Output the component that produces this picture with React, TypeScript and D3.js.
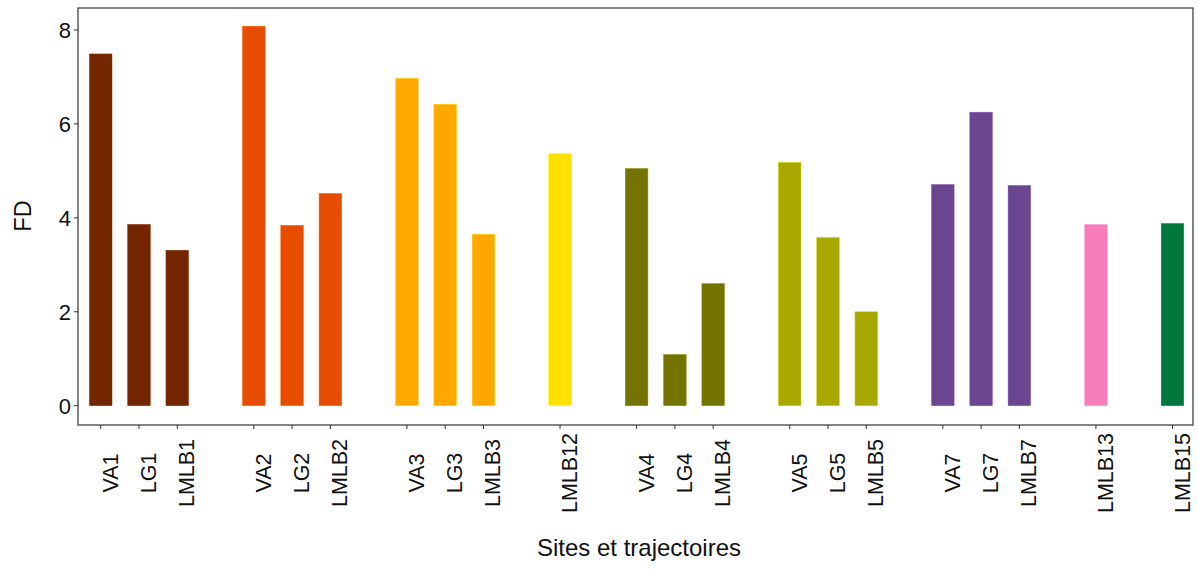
import { useEffect, useRef } from "react";
import * as d3 from "d3";

// bars grouped by site; an empty slot separates consecutive groups
const groups = [
  ["VA1", "LG1", "LMLB1"],
  ["VA2", "LG2", "LMLB2"],
  ["VA3", "LG3", "LMLB3"],
  ["LMLB12"],
  ["VA4", "LG4", "LMLB4"],
  ["VA5", "LG5", "LMLB5"],
  ["VA7", "LG7", "LMLB7"],
  ["LMLB13"],
  ["LMLB15"],
];
const groupColors = ["#732600", "#E64D00", "#FFA800", "#FFE100", "#737300", "#A8A800", "#6B4690", "#F77DB8", "#00773C"];
const values: Record<string, number> = {
  VA1: 7.49, LG1: 3.86, LMLB1: 3.31,
  VA2: 8.08, LG2: 3.84, LMLB2: 4.52,
  VA3: 6.97, LG3: 6.42, LMLB3: 3.65,
  LMLB12: 5.37,
  VA4: 5.05, LG4: 1.09, LMLB4: 2.60,
  VA5: 5.18, LG5: 3.58, LMLB5: 2.00,
  VA7: 4.71, LG7: 6.25, LMLB7: 4.69,
  LMLB13: 3.86,
  LMLB15: 3.88,
};
const yTicks = [0, 2, 4, 6, 8];

export default function App() {
  const ref = useRef<SVGSVGElement>(null);
  useEffect(() => {
    if (!ref.current) return;
    const svg = d3.select(ref.current);
    svg.selectAll("*").remove();
    const W = 1198, H = 572;
    const m = { l: 78, r: 1193, t: 8, b: 425 };
    const font = "Liberation Sans, Arial, sans-serif";

    // slot domain with spacer slots between groups
    const slots: string[] = [];
    const colorOf: Record<string, string> = {};
    groups.forEach((g, gi) => {
      if (gi > 0) slots.push("_gap" + gi);
      g.forEach((c) => { slots.push(c); colorOf[c] = groupColors[gi]; });
    });
    const labels = slots.filter((s) => !s.startsWith("_gap"));

    const x = d3.scalePoint(slots, [100.7, 1172.5]);
    const step = x.step();
    const bw = step * 0.59;
    const y = d3.scaleLinear([0, 8], [405.7, 30]);

    svg.append("rect").attr("x", m.l).attr("y", m.t).attr("width", m.r - m.l).attr("height", m.b - m.t)
      .attr("fill", "#fff").attr("stroke", "#333").attr("stroke-width", 1.2);

    svg.selectAll("rect.bar").data(labels).enter().append("rect").attr("class", "bar")
      .attr("x", (d) => x(d)! - bw / 2).attr("width", bw)
      .attr("y", (d) => y(values[d])).attr("height", (d) => y(0) - y(values[d]))
      .attr("fill", (d) => colorOf[d])
      .attr("stroke", (d) => d3.color(colorOf[d])!.brighter(0.6).formatHex()).attr("stroke-width", 0.5);

    // y axis
    yTicks.forEach((t) => {
      svg.append("line").attr("x1", m.l - 4).attr("x2", m.l).attr("y1", y(t)).attr("y2", y(t))
        .attr("stroke", "#333").attr("stroke-width", 1);
      svg.append("text").attr("x", m.l - 7).attr("y", y(t)).attr("dy", "0.36em")
        .attr("text-anchor", "end").attr("font-size", 22).attr("font-family", font)
        .attr("fill", "#111").text(t);
    });

    // x axis: labels rotated and centred on a common line
    labels.forEach((c) => {
      const px = x(c)!;
      svg.append("line").attr("x1", px).attr("x2", px).attr("y1", m.b).attr("y2", m.b + 4)
        .attr("stroke", "#333").attr("stroke-width", 1);
      svg.append("text").attr("transform", `translate(${px + 17},473) rotate(-90)`)
        .attr("text-anchor", "middle").attr("font-size", 21.5).attr("font-family", font)
        .attr("fill", "#111").text(c);
    });

    svg.append("text").attr("x", 639).attr("y", 556).attr("text-anchor", "middle")
      .attr("font-size", 24).attr("font-family", font).attr("fill", "#111").text("Sites et trajectoires");
    svg.append("text").attr("transform", `translate(31,216) rotate(-90)`)
      .attr("text-anchor", "middle").attr("font-size", 23.5).attr("font-family", font)
      .attr("fill", "#111").text("FD");
    svg.attr("width", W).attr("height", H);
  }, []);
  return <svg ref={ref} width={1198} height={572} style={{ position: "absolute", left: 0, top: 0, background: "#fff" }} />;
}
